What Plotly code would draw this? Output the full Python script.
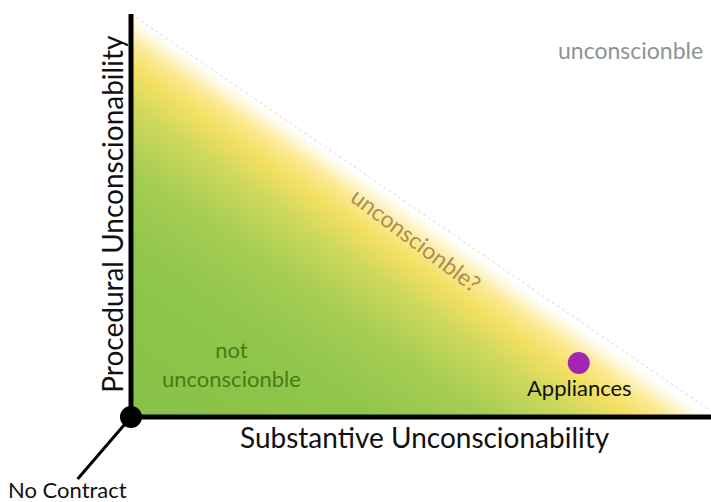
import numpy as np
import plotly.graph_objects as go

# Data
point_labels = ["Appliances"]
point_x = [0.772]
point_y = [0.134]
origin_label = "No Contract"
x_title = "Substantive Unconscionability"
y_title = "Procedural Unconscionability"
zone_labels = ["not<br>unconscionble", "unconscionble?", "unconscionble"]

# gradient field: t = x + y (distance toward the hypotenuse)
gx = np.linspace(0, 1, 320)
gy = np.linspace(0, 1, 240)
GX, GY = np.meshgrid(gx, gy)
T = np.clip(GX + GY, 0, 1.0)

fig = go.Figure()
fig.add_trace(go.Heatmap(
    x=gx, y=gy, z=T, zmin=0, zmax=1, zsmooth="best", showscale=False,
    hoverinfo="skip",
    colorscale=[
        [0.0, "#88c248"], [0.4, "#8fc54b"], [0.62, "#a6cd53"],
        [0.77, "#cdd85c"], [0.87, "#f5e064"], [0.93, "#fbea94"],
        [0.972, "#fef8dc"], [1.0, "#ffffff"]],
))
# faint hypotenuse
fig.add_shape(type="line", xref="paper", yref="paper", x0=0, y0=1, x1=1, y1=0.015,
              line=dict(color="#d8d8d8", width=1, dash="dot"))

fig.add_trace(go.Scatter(x=point_x, y=point_y, mode="markers",
                         marker=dict(size=22, color="#a326b3"), hoverinfo="skip",
                         cliponaxis=False))

# axes lines
fig.add_shape(type="line", xref="paper", yref="paper", x0=0, y0=0, x1=0, y1=1,
              line=dict(color="black", width=5))
fig.add_shape(type="line", xref="paper", yref="paper", x0=0, y0=0, x1=1, y1=0,
              line=dict(color="black", width=5))
# no contract pointer
fig.add_shape(type="line", xref="paper", yref="paper", x0=0, y0=0, x1=-0.092, y1=-0.154,
              line=dict(color="black", width=3))
fig.add_shape(type="circle", xref="paper", yref="paper",
              xsizemode="pixel", ysizemode="pixel", xanchor=0, yanchor=0,
              x0=-11, x1=11, y0=-11, y1=11,
              fillcolor="black", line=dict(color="black", width=0))

FONT = "Lato"
ann = [
    dict(x=-0.033, y=0.504, text=y_title, textangle=-90, font=dict(size=28, color="#111")),
    dict(x=0.507, y=-0.05, text=x_title, font=dict(size=28, color="#111")),
    dict(x=-0.109, y=-0.181, text=origin_label, font=dict(size=22, color="#111")),
    dict(x=0.774, y=0.072, text=point_labels[0], font=dict(size=22, color="#111")),
    dict(x=0.174, y=0.131, text=zone_labels[0], font=dict(size=22, color="#4a7a14")),
    dict(x=0.493, y=0.44, text=zone_labels[1], textangle=37, font=dict(size=23, color="rgba(150,125,80,0.85)")),
    dict(x=0.862, y=0.911, text=zone_labels[2], font=dict(size=23, color="#8c9494")),
]
for a in ann:
    a.update(xref="paper", yref="paper", showarrow=False, xanchor="center", yanchor="middle")
    a["font"]["family"] = FONT

fig.update_layout(
    width=711, height=502,
    margin=dict(l=131, r=0, t=14, b=85, autoexpand=False),
    paper_bgcolor="white", plot_bgcolor="white",
    xaxis=dict(range=[0, 1], visible=False, fixedrange=True),
    yaxis=dict(range=[0, 1], visible=False, fixedrange=True),
    annotations=ann, showlegend=False,
)
fig.write_html("out.html", config={"displayModeBar": False},
               post_script="document.body.style.margin='0';document.body.style.overflow='hidden';")
